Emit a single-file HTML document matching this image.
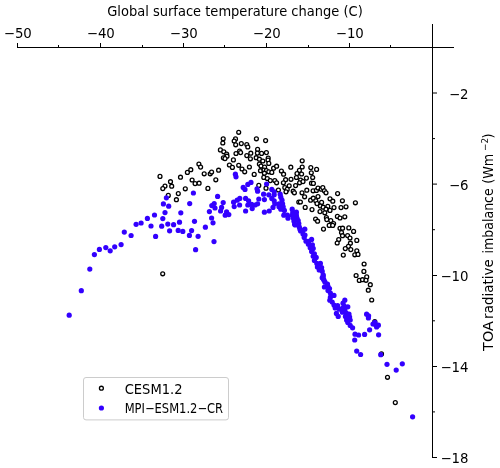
<!DOCTYPE html>
<html><head><meta charset="utf-8"><title>Scatter</title>
<style>
html,body{margin:0;padding:0;background:#fff;}
svg{display:block;will-change:transform;}
text{font-family:"DejaVu Sans","Liberation Sans",sans-serif;fill:#000;}
</style></head><body>
<svg width="500" height="468" viewBox="0 0 500 468">
<rect width="500" height="468" fill="#fff"/>

<g stroke="#000" stroke-width="1" fill="none" shape-rendering="crispEdges">
<line x1="17" y1="47.5" x2="454" y2="47.5"/>
<line x1="432.5" y1="23.5" x2="432.5" y2="457.5"/>
<line x1="17.5" y1="47.5" x2="17.5" y2="43"/>
<line x1="100.5" y1="47.5" x2="100.5" y2="43"/>
<line x1="183.5" y1="47.5" x2="183.5" y2="43"/>
<line x1="266.5" y1="47.5" x2="266.5" y2="43"/>
<line x1="349.5" y1="47.5" x2="349.5" y2="43"/>
<line x1="58.5" y1="47.5" x2="58.5" y2="45"/>
<line x1="142.5" y1="47.5" x2="142.5" y2="45"/>
<line x1="224.5" y1="47.5" x2="224.5" y2="45"/>
<line x1="308.5" y1="47.5" x2="308.5" y2="45"/>
<line x1="390.5" y1="47.5" x2="390.5" y2="45"/>
</g>
<g stroke="#000" stroke-width="1" fill="none">
<line x1="432.5" y1="93.0" x2="437" y2="93.0"/>
<line x1="432.5" y1="184.1" x2="437" y2="184.1"/>
<line x1="432.5" y1="275.5" x2="437" y2="275.5"/>
<line x1="432.5" y1="366.5" x2="437" y2="366.5"/>
<line x1="432.5" y1="457.5" x2="437" y2="457.5"/>
<line x1="432.5" y1="138.6" x2="435" y2="138.6"/>
<line x1="432.5" y1="229.7" x2="435" y2="229.7"/>
<line x1="432.5" y1="320.8" x2="435" y2="320.8"/>
<line x1="432.5" y1="411.9" x2="435" y2="411.9"/>
</g>
<g font-size="13.33">
<text x="17.8" y="38" text-anchor="middle">−50</text>
<text x="100.8" y="38" text-anchor="middle">−40</text>
<text x="183.8" y="38" text-anchor="middle">−30</text>
<text x="266.8" y="38" text-anchor="middle">−20</text>
<text x="349.8" y="38" text-anchor="middle">−10</text>
<text x="468.6" y="98.6" text-anchor="end">−2</text>
<text x="468.6" y="189.7" text-anchor="end">−6</text>
<text x="468.6" y="280.9" text-anchor="end">−10</text>
<text x="468.6" y="372.0" text-anchor="end">−14</text>
<text x="468.6" y="463.1" text-anchor="end">−18</text>
</g>
<text x="235" y="15.6" font-size="13.33" text-anchor="middle" textLength="255.6" lengthAdjust="spacingAndGlyphs">Global surface temperature change (C)</text>
<g transform="translate(493.1,0) rotate(-90)" font-size="13.33">
<text x="-350.9" y="0" textLength="29.7" lengthAdjust="spacingAndGlyphs">TOA</text>
<text x="-318.9" y="0" textLength="59.7" lengthAdjust="spacingAndGlyphs">radiative</text>
<text x="-253.4" y="0" textLength="65.1" lengthAdjust="spacingAndGlyphs">imbalance</text>
<text x="-183.65" y="0" textLength="29.9" lengthAdjust="spacingAndGlyphs">(Wm</text>
<text x="-138.7" y="0" textLength="5.6" lengthAdjust="spacingAndGlyphs">)</text>
<text x="-151" y="-5.2" font-size="9.3" textLength="13.1" lengthAdjust="spacingAndGlyphs">−2</text>
</g>
<g fill="#fff" stroke="#000" stroke-width="1.3">
<circle cx="168.3" cy="195.4" r="1.95"/>
<circle cx="178.3" cy="193.6" r="1.95"/>
<circle cx="176.4" cy="199.7" r="1.95"/>
<circle cx="160.0" cy="176.4" r="1.95"/>
<circle cx="170.5" cy="181.7" r="1.95"/>
<circle cx="171.7" cy="186.2" r="1.95"/>
<circle cx="165.0" cy="186.1" r="1.95"/>
<circle cx="162.8" cy="188.6" r="1.95"/>
<circle cx="180.5" cy="177.2" r="1.95"/>
<circle cx="187.4" cy="172.4" r="1.95"/>
<circle cx="190.8" cy="169.7" r="1.95"/>
<circle cx="192.1" cy="180.0" r="1.95"/>
<circle cx="195.1" cy="183.6" r="1.95"/>
<circle cx="199.1" cy="183.2" r="1.95"/>
<circle cx="198.9" cy="164.0" r="1.95"/>
<circle cx="200.6" cy="167.1" r="1.95"/>
<circle cx="185.3" cy="188.8" r="1.95"/>
<circle cx="238.7" cy="132.3" r="1.95"/>
<circle cx="223.2" cy="138.8" r="1.95"/>
<circle cx="222.8" cy="143.0" r="1.95"/>
<circle cx="235.5" cy="138.9" r="1.95"/>
<circle cx="234.2" cy="141.0" r="1.95"/>
<circle cx="235.7" cy="144.8" r="1.95"/>
<circle cx="241.3" cy="143.6" r="1.95"/>
<circle cx="246.8" cy="144.5" r="1.95"/>
<circle cx="247.8" cy="147.0" r="1.95"/>
<circle cx="256.4" cy="138.8" r="1.95"/>
<circle cx="220.4" cy="149.9" r="1.95"/>
<circle cx="223.8" cy="151.8" r="1.95"/>
<circle cx="226.7" cy="154.1" r="1.95"/>
<circle cx="227.0" cy="156.2" r="1.95"/>
<circle cx="223.4" cy="157.8" r="1.95"/>
<circle cx="225.0" cy="158.6" r="1.95"/>
<circle cx="236.0" cy="153.5" r="1.95"/>
<circle cx="239.6" cy="151.1" r="1.95"/>
<circle cx="240.6" cy="152.6" r="1.95"/>
<circle cx="233.4" cy="159.9" r="1.95"/>
<circle cx="246.8" cy="155.6" r="1.95"/>
<circle cx="250.8" cy="153.2" r="1.95"/>
<circle cx="250.4" cy="158.8" r="1.95"/>
<circle cx="257.6" cy="149.4" r="1.95"/>
<circle cx="257.4" cy="153.1" r="1.95"/>
<circle cx="256.2" cy="157.7" r="1.95"/>
<circle cx="259.4" cy="159.2" r="1.95"/>
<circle cx="229.4" cy="165.0" r="1.95"/>
<circle cx="238.7" cy="165.3" r="1.95"/>
<circle cx="259.4" cy="164.0" r="1.95"/>
<circle cx="249.4" cy="167.0" r="1.95"/>
<circle cx="204.2" cy="173.8" r="1.95"/>
<circle cx="210.2" cy="173.8" r="1.95"/>
<circle cx="211.6" cy="172.0" r="1.95"/>
<circle cx="218.6" cy="170.2" r="1.95"/>
<circle cx="215.8" cy="179.8" r="1.95"/>
<circle cx="207.9" cy="188.4" r="1.95"/>
<circle cx="232.4" cy="167.4" r="1.95"/>
<circle cx="242.0" cy="169.0" r="1.95"/>
<circle cx="244.7" cy="171.8" r="1.95"/>
<circle cx="254.2" cy="174.4" r="1.95"/>
<circle cx="260.5" cy="170.7" r="1.95"/>
<circle cx="258.8" cy="185.4" r="1.95"/>
<circle cx="265.6" cy="140.6" r="1.95"/>
<circle cx="261.6" cy="153.4" r="1.95"/>
<circle cx="266.4" cy="152.6" r="1.95"/>
<circle cx="262.8" cy="161.0" r="1.95"/>
<circle cx="268.2" cy="158.0" r="1.95"/>
<circle cx="268.0" cy="160.0" r="1.95"/>
<circle cx="268.8" cy="163.4" r="1.95"/>
<circle cx="261.0" cy="166.0" r="1.95"/>
<circle cx="264.6" cy="167.0" r="1.95"/>
<circle cx="264.0" cy="170.0" r="1.95"/>
<circle cx="266.4" cy="170.6" r="1.95"/>
<circle cx="264.4" cy="173.2" r="1.95"/>
<circle cx="268.8" cy="171.8" r="1.95"/>
<circle cx="271.8" cy="172.4" r="1.95"/>
<circle cx="273.6" cy="168.2" r="1.95"/>
<circle cx="276.6" cy="166.2" r="1.95"/>
<circle cx="263.8" cy="177.4" r="1.95"/>
<circle cx="267.3" cy="178.5" r="1.95"/>
<circle cx="281.4" cy="171.0" r="1.95"/>
<circle cx="283.6" cy="174.2" r="1.95"/>
<circle cx="290.8" cy="167.2" r="1.95"/>
<circle cx="302.2" cy="160.8" r="1.95"/>
<circle cx="302.2" cy="167.0" r="1.95"/>
<circle cx="299.4" cy="170.4" r="1.95"/>
<circle cx="297.0" cy="173.6" r="1.95"/>
<circle cx="301.6" cy="174.0" r="1.95"/>
<circle cx="296.4" cy="177.5" r="1.95"/>
<circle cx="291.0" cy="179.3" r="1.95"/>
<circle cx="285.6" cy="179.7" r="1.95"/>
<circle cx="310.8" cy="167.6" r="1.95"/>
<circle cx="311.3" cy="172.8" r="1.95"/>
<circle cx="312.7" cy="177.5" r="1.95"/>
<circle cx="306.4" cy="178.1" r="1.95"/>
<circle cx="316.6" cy="169.4" r="1.95"/>
<circle cx="270.3" cy="180.6" r="1.95"/>
<circle cx="274.8" cy="180.6" r="1.95"/>
<circle cx="300.6" cy="180.0" r="1.95"/>
<circle cx="276.6" cy="182.8" r="1.95"/>
<circle cx="266.0" cy="188.2" r="1.95"/>
<circle cx="278.4" cy="190.0" r="1.95"/>
<circle cx="283.4" cy="182.8" r="1.95"/>
<circle cx="289.2" cy="185.8" r="1.95"/>
<circle cx="284.8" cy="187.6" r="1.95"/>
<circle cx="287.2" cy="189.4" r="1.95"/>
<circle cx="286.0" cy="191.8" r="1.95"/>
<circle cx="293.2" cy="191.2" r="1.95"/>
<circle cx="294.4" cy="192.8" r="1.95"/>
<circle cx="295.6" cy="185.6" r="1.95"/>
<circle cx="299.6" cy="182.8" r="1.95"/>
<circle cx="303.0" cy="181.6" r="1.95"/>
<circle cx="311.5" cy="183.2" r="1.95"/>
<circle cx="306.8" cy="190.2" r="1.95"/>
<circle cx="302.0" cy="192.8" r="1.95"/>
<circle cx="313.1" cy="190.8" r="1.95"/>
<circle cx="304.6" cy="196.8" r="1.95"/>
<circle cx="298.8" cy="202.0" r="1.95"/>
<circle cx="300.4" cy="202.0" r="1.95"/>
<circle cx="310.6" cy="200.2" r="1.95"/>
<circle cx="313.3" cy="198.2" r="1.95"/>
<circle cx="305.2" cy="207.4" r="1.95"/>
<circle cx="312.0" cy="209.6" r="1.95"/>
<circle cx="315.6" cy="219.0" r="1.95"/>
<circle cx="313.4" cy="183.4" r="1.95"/>
<circle cx="316.4" cy="190.4" r="1.95"/>
<circle cx="318.0" cy="188.0" r="1.95"/>
<circle cx="321.2" cy="189.2" r="1.95"/>
<circle cx="322.8" cy="187.6" r="1.95"/>
<circle cx="324.4" cy="190.8" r="1.95"/>
<circle cx="326.0" cy="192.8" r="1.95"/>
<circle cx="318.0" cy="196.6" r="1.95"/>
<circle cx="315.8" cy="200.8" r="1.95"/>
<circle cx="317.0" cy="203.6" r="1.95"/>
<circle cx="321.6" cy="202.4" r="1.95"/>
<circle cx="320.4" cy="206.0" r="1.95"/>
<circle cx="323.2" cy="207.2" r="1.95"/>
<circle cx="327.8" cy="206.4" r="1.95"/>
<circle cx="326.0" cy="209.2" r="1.95"/>
<circle cx="330.0" cy="210.4" r="1.95"/>
<circle cx="334.0" cy="207.6" r="1.95"/>
<circle cx="320.0" cy="211.6" r="1.95"/>
<circle cx="324.8" cy="212.8" r="1.95"/>
<circle cx="330.0" cy="198.8" r="1.95"/>
<circle cx="332.8" cy="201.2" r="1.95"/>
<circle cx="337.6" cy="193.6" r="1.95"/>
<circle cx="342.4" cy="200.8" r="1.95"/>
<circle cx="341.0" cy="207.6" r="1.95"/>
<circle cx="346.0" cy="206.8" r="1.95"/>
<circle cx="355.4" cy="202.8" r="1.95"/>
<circle cx="337.4" cy="216.4" r="1.95"/>
<circle cx="340.0" cy="218.0" r="1.95"/>
<circle cx="344.8" cy="216.8" r="1.95"/>
<circle cx="317.6" cy="221.2" r="1.95"/>
<circle cx="326.4" cy="217.6" r="1.95"/>
<circle cx="326.8" cy="219.6" r="1.95"/>
<circle cx="330.8" cy="220.6" r="1.95"/>
<circle cx="333.6" cy="223.6" r="1.95"/>
<circle cx="329.2" cy="225.4" r="1.95"/>
<circle cx="332.7" cy="225.4" r="1.95"/>
<circle cx="323.5" cy="229.1" r="1.95"/>
<circle cx="340.0" cy="228.3" r="1.95"/>
<circle cx="342.6" cy="228.2" r="1.95"/>
<circle cx="348.8" cy="227.9" r="1.95"/>
<circle cx="353.6" cy="231.4" r="1.95"/>
<circle cx="341.5" cy="232.6" r="1.95"/>
<circle cx="342.5" cy="235.7" r="1.95"/>
<circle cx="347.6" cy="235.6" r="1.95"/>
<circle cx="350.0" cy="238.0" r="1.95"/>
<circle cx="338.7" cy="239.5" r="1.95"/>
<circle cx="337.2" cy="243.0" r="1.95"/>
<circle cx="356.8" cy="240.4" r="1.95"/>
<circle cx="350.4" cy="243.2" r="1.95"/>
<circle cx="348.4" cy="246.4" r="1.95"/>
<circle cx="345.3" cy="248.6" r="1.95"/>
<circle cx="350.8" cy="249.6" r="1.95"/>
<circle cx="356.8" cy="250.8" r="1.95"/>
<circle cx="354.8" cy="254.8" r="1.95"/>
<circle cx="358.0" cy="254.4" r="1.95"/>
<circle cx="343.3" cy="255.1" r="1.95"/>
<circle cx="364.1" cy="264.0" r="1.95"/>
<circle cx="363.9" cy="271.4" r="1.95"/>
<circle cx="356.1" cy="275.5" r="1.95"/>
<circle cx="366.7" cy="276.9" r="1.95"/>
<circle cx="359.3" cy="280.4" r="1.95"/>
<circle cx="362.5" cy="279.7" r="1.95"/>
<circle cx="366.0" cy="280.3" r="1.95"/>
<circle cx="370.3" cy="284.7" r="1.95"/>
<circle cx="368.3" cy="290.2" r="1.95"/>
<circle cx="371.7" cy="300.0" r="1.95"/>
<circle cx="374.8" cy="321.7" r="1.95"/>
<circle cx="381.5" cy="353.9" r="1.95"/>
<circle cx="387.5" cy="377.3" r="1.95"/>
<circle cx="395.3" cy="402.6" r="1.95"/>
<circle cx="162.7" cy="273.8" r="1.95"/>
</g>
<g fill="#3300ff">
<circle cx="69.2" cy="315.2" r="2.6"/>
<circle cx="81.3" cy="290.7" r="2.6"/>
<circle cx="89.8" cy="269.1" r="2.6"/>
<circle cx="94.4" cy="254.6" r="2.6"/>
<circle cx="99.4" cy="249.4" r="2.6"/>
<circle cx="105.8" cy="247.6" r="2.6"/>
<circle cx="110.2" cy="250.8" r="2.6"/>
<circle cx="114.7" cy="246.8" r="2.6"/>
<circle cx="121.1" cy="244.6" r="2.6"/>
<circle cx="124.3" cy="232.1" r="2.6"/>
<circle cx="131.1" cy="235.5" r="2.6"/>
<circle cx="136.1" cy="224.3" r="2.6"/>
<circle cx="141.1" cy="223.0" r="2.6"/>
<circle cx="147.4" cy="218.4" r="2.6"/>
<circle cx="151.0" cy="226.0" r="2.6"/>
<circle cx="154.5" cy="215.0" r="2.6"/>
<circle cx="155.6" cy="236.4" r="2.6"/>
<circle cx="161.7" cy="226.2" r="2.6"/>
<circle cx="162.8" cy="218.6" r="2.6"/>
<circle cx="165.0" cy="212.6" r="2.6"/>
<circle cx="163.4" cy="203.9" r="2.6"/>
<circle cx="166.4" cy="197.8" r="2.6"/>
<circle cx="168.7" cy="206.2" r="2.6"/>
<circle cx="167.8" cy="224.1" r="2.6"/>
<circle cx="169.6" cy="230.8" r="2.6"/>
<circle cx="173.6" cy="224.7" r="2.6"/>
<circle cx="178.2" cy="230.4" r="2.6"/>
<circle cx="179.5" cy="222.2" r="2.6"/>
<circle cx="180.8" cy="212.8" r="2.6"/>
<circle cx="182.8" cy="231.4" r="2.6"/>
<circle cx="189.4" cy="235.4" r="2.6"/>
<circle cx="191.6" cy="230.6" r="2.6"/>
<circle cx="189.7" cy="203.6" r="2.6"/>
<circle cx="193.4" cy="193.0" r="2.6"/>
<circle cx="194.5" cy="221.3" r="2.6"/>
<circle cx="198.1" cy="236.3" r="2.6"/>
<circle cx="195.6" cy="249.7" r="2.6"/>
<circle cx="205.4" cy="227.2" r="2.6"/>
<circle cx="214.0" cy="241.6" r="2.6"/>
<circle cx="211.6" cy="218.0" r="2.6"/>
<circle cx="213.0" cy="222.8" r="2.6"/>
<circle cx="235.4" cy="174.2" r="2.6"/>
<circle cx="236.0" cy="176.8" r="2.6"/>
<circle cx="251.0" cy="182.4" r="2.6"/>
<circle cx="247.8" cy="184.4" r="2.6"/>
<circle cx="243.2" cy="187.4" r="2.6"/>
<circle cx="245.0" cy="189.4" r="2.6"/>
<circle cx="257.0" cy="188.8" r="2.6"/>
<circle cx="257.6" cy="191.2" r="2.6"/>
<circle cx="217.6" cy="196.4" r="2.6"/>
<circle cx="214.2" cy="203.5" r="2.6"/>
<circle cx="211.8" cy="205.6" r="2.6"/>
<circle cx="215.0" cy="208.0" r="2.6"/>
<circle cx="209.4" cy="211.6" r="2.6"/>
<circle cx="223.2" cy="202.6" r="2.6"/>
<circle cx="221.6" cy="207.4" r="2.6"/>
<circle cx="220.6" cy="211.0" r="2.6"/>
<circle cx="226.6" cy="211.9" r="2.6"/>
<circle cx="228.8" cy="214.6" r="2.6"/>
<circle cx="225.2" cy="215.2" r="2.6"/>
<circle cx="233.6" cy="202.2" r="2.6"/>
<circle cx="234.2" cy="206.6" r="2.6"/>
<circle cx="237.2" cy="200.2" r="2.6"/>
<circle cx="239.8" cy="198.4" r="2.6"/>
<circle cx="239.6" cy="205.0" r="2.6"/>
<circle cx="245.6" cy="198.4" r="2.6"/>
<circle cx="248.6" cy="200.8" r="2.6"/>
<circle cx="247.8" cy="205.0" r="2.6"/>
<circle cx="251.6" cy="204.4" r="2.6"/>
<circle cx="252.2" cy="208.6" r="2.6"/>
<circle cx="245.6" cy="211.0" r="2.6"/>
<circle cx="257.6" cy="203.8" r="2.6"/>
<circle cx="258.8" cy="199.0" r="2.6"/>
<circle cx="266.6" cy="184.0" r="2.6"/>
<circle cx="271.8" cy="189.4" r="2.6"/>
<circle cx="274.2" cy="191.8" r="2.6"/>
<circle cx="263.6" cy="194.2" r="2.6"/>
<circle cx="268.8" cy="194.8" r="2.6"/>
<circle cx="274.2" cy="194.8" r="2.6"/>
<circle cx="280.2" cy="194.2" r="2.6"/>
<circle cx="280.8" cy="197.2" r="2.6"/>
<circle cx="264.4" cy="199.6" r="2.6"/>
<circle cx="271.8" cy="198.4" r="2.6"/>
<circle cx="274.2" cy="200.8" r="2.6"/>
<circle cx="282.0" cy="200.2" r="2.6"/>
<circle cx="255.0" cy="205.0" r="2.6"/>
<circle cx="274.8" cy="203.8" r="2.6"/>
<circle cx="279.0" cy="203.8" r="2.6"/>
<circle cx="282.6" cy="203.8" r="2.6"/>
<circle cx="273.0" cy="207.4" r="2.6"/>
<circle cx="279.0" cy="206.8" r="2.6"/>
<circle cx="283.2" cy="206.8" r="2.6"/>
<circle cx="264.4" cy="212.2" r="2.6"/>
<circle cx="269.2" cy="211.0" r="2.6"/>
<circle cx="280.8" cy="209.2" r="2.6"/>
<circle cx="284.4" cy="210.4" r="2.6"/>
<circle cx="292.2" cy="209.2" r="2.6"/>
<circle cx="292.8" cy="212.2" r="2.6"/>
<circle cx="296.4" cy="212.2" r="2.6"/>
<circle cx="283.8" cy="215.2" r="2.6"/>
<circle cx="287.4" cy="215.2" r="2.6"/>
<circle cx="292.2" cy="215.2" r="2.6"/>
<circle cx="296.4" cy="215.2" r="2.6"/>
<circle cx="288.0" cy="218.2" r="2.6"/>
<circle cx="293.4" cy="218.2" r="2.6"/>
<circle cx="297.0" cy="218.2" r="2.6"/>
<circle cx="294.0" cy="221.2" r="2.6"/>
<circle cx="298.2" cy="220.6" r="2.6"/>
<circle cx="294.6" cy="224.2" r="2.6"/>
<circle cx="298.8" cy="223.6" r="2.6"/>
<circle cx="299.4" cy="227.2" r="2.6"/>
<circle cx="300.0" cy="229.6" r="2.6"/>
<circle cx="304.8" cy="229.2" r="2.6"/>
<circle cx="295.2" cy="225.0" r="2.6"/>
<circle cx="300.6" cy="231.0" r="2.6"/>
<circle cx="303.0" cy="234.0" r="2.6"/>
<circle cx="304.2" cy="237.6" r="2.6"/>
<circle cx="311.6" cy="239.4" r="2.6"/>
<circle cx="306.0" cy="241.2" r="2.6"/>
<circle cx="308.4" cy="244.2" r="2.6"/>
<circle cx="312.4" cy="244.8" r="2.6"/>
<circle cx="310.2" cy="247.8" r="2.6"/>
<circle cx="313.2" cy="248.4" r="2.6"/>
<circle cx="311.6" cy="251.4" r="2.6"/>
<circle cx="314.4" cy="253.8" r="2.6"/>
<circle cx="313.2" cy="256.2" r="2.6"/>
<circle cx="316.2" cy="257.4" r="2.6"/>
<circle cx="314.4" cy="260.4" r="2.6"/>
<circle cx="316.8" cy="263.4" r="2.6"/>
<circle cx="320.4" cy="263.4" r="2.6"/>
<circle cx="317.4" cy="267.0" r="2.6"/>
<circle cx="321.6" cy="267.6" r="2.6"/>
<circle cx="319.2" cy="270.0" r="2.6"/>
<circle cx="322.2" cy="271.2" r="2.6"/>
<circle cx="323.2" cy="274.8" r="2.6"/>
<circle cx="322.2" cy="277.8" r="2.6"/>
<circle cx="324.0" cy="280.2" r="2.6"/>
<circle cx="323.2" cy="276.2" r="2.6"/>
<circle cx="325.0" cy="282.2" r="2.6"/>
<circle cx="324.4" cy="287.0" r="2.6"/>
<circle cx="328.0" cy="286.4" r="2.6"/>
<circle cx="328.0" cy="290.6" r="2.6"/>
<circle cx="330.4" cy="293.0" r="2.6"/>
<circle cx="334.0" cy="295.4" r="2.6"/>
<circle cx="330.4" cy="297.2" r="2.6"/>
<circle cx="329.8" cy="300.2" r="2.6"/>
<circle cx="332.2" cy="302.0" r="2.6"/>
<circle cx="334.0" cy="305.0" r="2.6"/>
<circle cx="337.6" cy="305.6" r="2.6"/>
<circle cx="335.2" cy="308.0" r="2.6"/>
<circle cx="339.4" cy="309.2" r="2.6"/>
<circle cx="344.8" cy="300.2" r="2.6"/>
<circle cx="343.0" cy="303.2" r="2.6"/>
<circle cx="344.2" cy="306.2" r="2.6"/>
<circle cx="347.8" cy="306.8" r="2.6"/>
<circle cx="344.8" cy="309.8" r="2.6"/>
<circle cx="336.4" cy="313.4" r="2.6"/>
<circle cx="338.2" cy="316.4" r="2.6"/>
<circle cx="342.4" cy="312.2" r="2.6"/>
<circle cx="346.0" cy="312.8" r="2.6"/>
<circle cx="349.0" cy="314.0" r="2.6"/>
<circle cx="345.4" cy="316.4" r="2.6"/>
<circle cx="349.6" cy="317.0" r="2.6"/>
<circle cx="346.6" cy="320.0" r="2.6"/>
<circle cx="350.2" cy="320.0" r="2.6"/>
<circle cx="347.8" cy="322.4" r="2.6"/>
<circle cx="350.2" cy="325.4" r="2.6"/>
<circle cx="352.6" cy="327.8" r="2.6"/>
<circle cx="342.4" cy="308.4" r="2.6"/>
<circle cx="366.6" cy="314.2" r="2.6"/>
<circle cx="368.6" cy="315.8" r="2.6"/>
<circle cx="368.4" cy="318.0" r="2.6"/>
<circle cx="369.6" cy="329.8" r="2.6"/>
<circle cx="355.0" cy="334.2" r="2.6"/>
<circle cx="358.6" cy="335.0" r="2.6"/>
<circle cx="354.7" cy="340.0" r="2.6"/>
<circle cx="364.6" cy="334.4" r="2.6"/>
<circle cx="373.0" cy="324.0" r="2.6"/>
<circle cx="375.4" cy="324.6" r="2.6"/>
<circle cx="378.4" cy="325.2" r="2.6"/>
<circle cx="376.6" cy="327.0" r="2.6"/>
<circle cx="378.6" cy="334.8" r="2.6"/>
<circle cx="356.7" cy="351.1" r="2.6"/>
<circle cx="360.6" cy="354.5" r="2.6"/>
<circle cx="380.7" cy="354.7" r="2.6"/>
<circle cx="387.0" cy="364.3" r="2.6"/>
<circle cx="396.2" cy="370.1" r="2.6"/>
<circle cx="402.3" cy="363.8" r="2.6"/>
<circle cx="412.6" cy="416.8" r="2.6"/>
<circle cx="374.9" cy="322.4" r="2.6"/>
<circle cx="302.6" cy="230.4" r="2.6"/>
<circle cx="308.6" cy="241.4" r="2.6"/>
<circle cx="305.0" cy="235.0" r="2.6"/>
<circle cx="327.5" cy="284.0" r="2.6"/>
<circle cx="329.5" cy="288.5" r="2.6"/>
<circle cx="323.5" cy="279.0" r="2.6"/>
</g>
<rect x="83.5" y="377.5" width="145" height="42.4" rx="2.5" ry="2.5" fill="#fff" stroke="#cccccc" stroke-width="1"/>
<circle cx="101.4" cy="388.2" r="1.95" fill="#fff" stroke="#000" stroke-width="1.3"/>
<circle cx="101.4" cy="408" r="2.6" fill="#3300ff"/>
<text x="124.7" y="393.6" font-size="13.33" textLength="57.8" lengthAdjust="spacingAndGlyphs">CESM1.2</text>
<text x="124.7" y="413.4" font-size="13.33" textLength="98.4" lengthAdjust="spacingAndGlyphs">MPI−ESM1.2−CR</text>
</svg></body></html>
